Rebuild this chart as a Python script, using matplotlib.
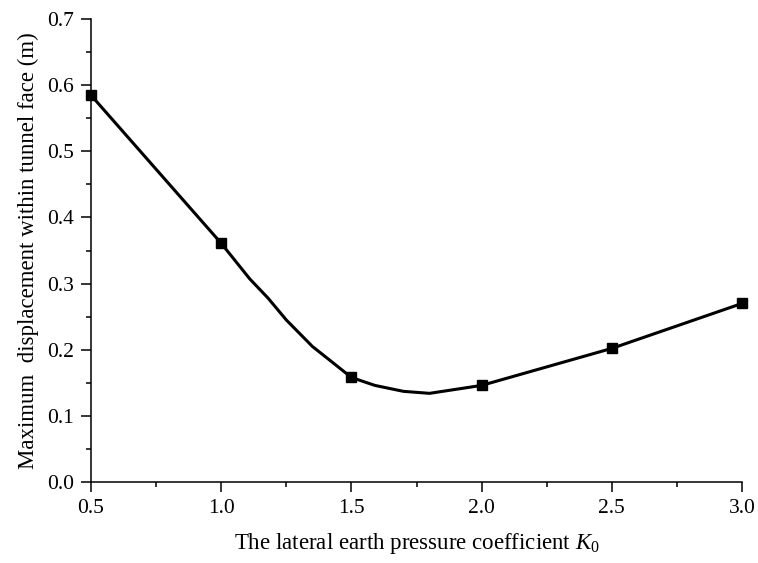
import matplotlib
matplotlib.use('Agg')
import matplotlib.pyplot as plt
from matplotlib.ticker import MultipleLocator, FormatStrFormatter

plt.rcParams['font.family'] = 'Liberation Serif'
plt.rcParams['mathtext.fontset'] = 'custom'
plt.rcParams['mathtext.rm'] = 'Liberation Serif'
plt.rcParams['mathtext.it'] = 'Liberation Serif:italic'

# computed cases (square markers)
k0 = [0.5, 1.0, 1.5, 2.0, 2.5, 3.0]
max_disp = [0.585, 0.361, 0.158, 0.146, 0.202, 0.270]

# smoothed connecting line through the cases
curve_k0 = [0.5, 1.0, 1.11, 1.18, 1.25, 1.35, 1.43, 1.5, 1.59, 1.70, 1.80, 2.0, 2.5, 3.0]
curve_disp = [0.585, 0.361, 0.307, 0.278, 0.245, 0.205, 0.180, 0.158, 0.146, 0.137, 0.134,
              0.146, 0.202, 0.270]

fig = plt.figure(figsize=(7.58, 5.63), dpi=100)
ax = fig.add_axes([0.12, 0.144, 0.859, 0.822])

ax.plot(curve_k0, curve_disp, color='black', lw=2.2, solid_joinstyle='round', zorder=2)
ax.plot(k0, max_disp, 's', color='black', ms=7.5, zorder=3, clip_on=False)

ax.set_xlim(0.5, 3.0)
ax.set_ylim(0.0, 0.7)
ax.xaxis.set_major_locator(MultipleLocator(0.5))
ax.xaxis.set_minor_locator(MultipleLocator(0.25))
ax.yaxis.set_major_locator(MultipleLocator(0.1))
ax.yaxis.set_minor_locator(MultipleLocator(0.05))
ax.xaxis.set_major_formatter(FormatStrFormatter('%.1f'))
ax.yaxis.set_major_formatter(FormatStrFormatter('%.1f'))

ax.spines['top'].set_visible(False)
ax.spines['right'].set_visible(False)
for s in ('left', 'bottom'):
    ax.spines[s].set_linewidth(1.1)

ax.tick_params(which='major', direction='out', length=7, width=1.1, labelsize=15.5, pad=5)
ax.tick_params(which='minor', direction='out', length=3.7, width=1.1)

ax.set_xlabel(r'The lateral earth pressure coefficient $K_0$', fontsize=16.5, labelpad=10)
ax.set_ylabel('Maximum  displacement within tunnel face (m)', fontsize=16.5, labelpad=6)

fig.savefig('out.png', dpi=100)
